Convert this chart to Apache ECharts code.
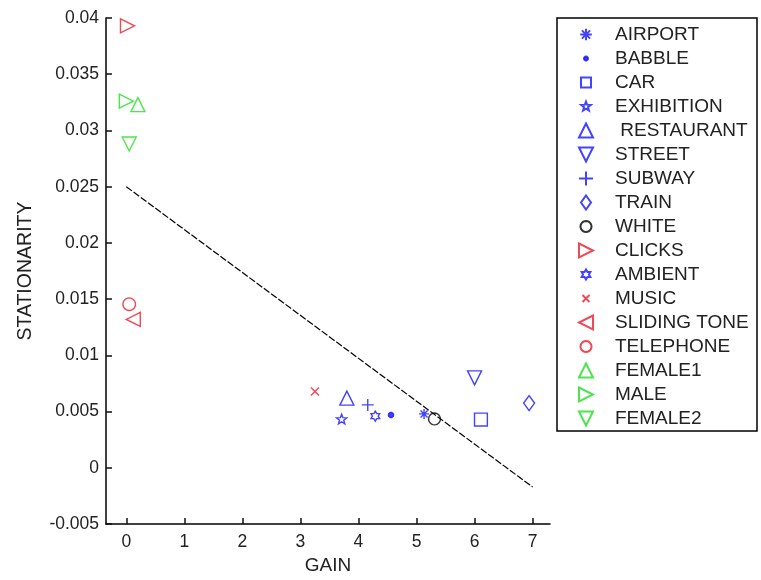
<!DOCTYPE html>
<html>
<head>
<meta charset="utf-8">
<script src="https://cdn.jsdelivr.net/npm/echarts@6/dist/echarts.min.js"></script>
<style>
	html, body { margin: 0; padding: 0; background: #fff; }
	#chart { width: 761px; height: 580px; }
</style>
</head>
<body>
<div id="chart"></div>
<script>
	// data
	const names = ['AIRPORT', 'BABBLE', 'CAR', 'EXHIBITION', ' RESTAURANT', 'STREET', 'SUBWAY', 'TRAIN', 'WHITE',
		'CLICKS', 'AMBIENT', 'MUSIC', 'SLIDING TONE', 'TELEPHONE', 'FEMALE1', 'MALE', 'FEMALE2'];
	const gain = [5.13, 4.56, 6.11, 3.71, 3.8, 6.0, 4.16, 6.94, 5.31,
		0.02, 4.29, 3.25, 0.12, 0.05, 0.2, 0.0, 0.05];
	const stationarity = [0.0048, 0.0047, 0.0043, 0.0043, 0.0062, 0.0080, 0.0056, 0.00576, 0.00435,
		0.0393, 0.0046, 0.0068, 0.0132, 0.01455, 0.0323, 0.0326, 0.0288];
	const lineGain = [0, 7];
	const lineStationarity = [0.025, -0.0017];
	const xTicks = [0, 1, 2, 3, 4, 5, 6, 7];

	// marker shapes; zero-length corner segments pad the box so legend icons come out smaller
	function padded(body, size) {
		return 'path://M0,0L0,0M' + size + ',' + size + 'L' + size + ',' + size + body;
	}
	function ring(r, c) {
		let pts = [];
		for (let i = 0; i < 24; i++) {
			let a = i * Math.PI / 12;
			pts.push((c + r * Math.cos(a)).toFixed(2) + ',' + (c + r * Math.sin(a)).toFixed(2));
		}
		return 'M' + pts.join('L') + 'Z';
	}
	function starPath(n, inner, pad) {
		let pts = [], c = 10 + pad;
		for (let i = 0; i < n * 2; i++) {
			let r = i % 2 == 0 ? 10 : 10 * inner;
			let a = -Math.PI / 2 + i * Math.PI / n;
			pts.push((c + r * Math.cos(a)).toFixed(2) + ',' + (c + r * Math.sin(a)).toFixed(2));
		}
		return padded('M' + pts.join('L') + 'Z', 2 * c);
	}
	const BLUE = '#1414ff', RED = '#ec1c2c', GREEN = '#22dd22', BLACK = '#000';
	const sym = {
		asterisk: padded('M6,1L6,11M1,6L11,6M2.5,2.5L9.5,9.5M9.5,2.5L2.5,9.5', 12),
		plus: 'path://M5,0L5,10M0,5L10,5',
		cross: padded('M3.5,3.5L10.5,10.5M10.5,3.5L3.5,10.5', 14),
		dot: padded(ring(2, 7), 14),
		circle: padded(ring(5.5, 7), 14),
		square: padded('M2,2L12,2L12,12L2,12Z', 14),
		diamond: 'path://M5,0L10,7L5,14L0,7Z',
		up: 'path://M5,0L10,10L0,10Z',
		down: 'path://M0,0L10,0L5,10Z',
		left: 'path://M10,0L0,5L10,10Z',
		right: 'path://M0,0L10,5L0,10Z',
		star: starPath(5, 0.42, 4),
		hexa: starPath(6, 0.58, 4)
	};
	// [symbol, colour, size in plot, filled]
	const styles = [
		[sym.asterisk, BLUE, 12],
		[sym.dot, BLUE, 18, true],
		[sym.square, BLUE, 18],
		[sym.star, BLUE, 15],
		[sym.up, BLUE, 14],
		[sym.down, BLUE, 14],
		[sym.plus, BLUE, 12],
		[sym.diamond, BLUE, [11, 15]],
		[sym.circle, BLACK, 15],
		[sym.right, RED, 14],
		[sym.hexa, BLUE, 14],
		[sym.cross, RED, 16],
		[sym.left, RED, 14],
		[sym.circle, RED, 16],
		[sym.up, GREEN, 14],
		[sym.right, GREEN, 14],
		[sym.down, GREEN, 14]
	];

	let chart = echarts.init(document.getElementById('chart'));
	let seriesData = [];
	seriesData.push({
		name: 'fit',
		type: 'line',
		data: lineGain.map((g, i) => [g, lineStationarity[i]]),
		symbol: 'none',
		lineStyle: { color: '#000', width: 1.2, type: [7, 2] },
		z: 1,
		silent: true
	});
	names.forEach((name, i) => {
		let st = styles[i];
		seriesData.push({
			name: name,
			type: 'scatter',
			data: [[gain[i], stationarity[i]]],
			symbol: st[0],
			symbolSize: st[2],
			itemStyle: {
				color: st[3] ? st[1] : 'rgba(0,0,0,0)',
				borderColor: st[1],
				borderWidth: 1.4
			},
			z: 3
		});
	});

	const font = 'Liberation Sans, Arial, sans-serif';
	let option = {
		animation: false,
		grid: { left: 106, top: 18, right: 211, bottom: 50 },
		xAxis: {
			type: 'value',
			z: 10,
			min: -0.35,
			max: 7.3,
			name: 'GAIN',
			nameLocation: 'middle',
			nameGap: 31,
			nameTextStyle: { fontFamily: font, fontSize: 19, color: '#222' },
			axisLine: { onZero: false, lineStyle: { color: '#000', width: 1.5 } },
			axisTick: { show: true, inside: true, length: 6, customValues: xTicks, lineStyle: { color: '#111', width: 1.5 } },
			axisLabel: { customValues: xTicks, margin: 9, fontFamily: font, fontSize: 17.5, color: '#222' },
			splitLine: { show: false }
		},
		yAxis: {
			type: 'value',
			z: 10,
			min: -0.005,
			max: 0.04,
			interval: 0.005,
			name: 'STATIONARITY',
			nameLocation: 'middle',
			nameGap: 70,
			nameTextStyle: { fontFamily: font, fontSize: 19.5, color: '#222' },
			axisLine: { show: true, onZero: false, lineStyle: { color: '#000', width: 1.5 } },
			axisTick: { show: true, inside: true, length: 6, lineStyle: { color: '#111', width: 1.5 } },
			axisLabel: { margin: 7, fontFamily: font, fontSize: 17.5, color: '#222' },
			splitLine: { show: false }
		},
		legend: {
			data: names,
			orient: 'vertical',
			left: 578,
			top: 25,
			padding: 0,
			itemWidth: 48,
			itemHeight: 14,
			itemGap: 5,
			symbolKeepAspect: true,
			selectedMode: false,
			textStyle: { fontFamily: font, fontSize: 19, color: '#222', lineHeight: 19 }
		},
		graphic: [{
			type: 'rect',
			shape: { x: 557, y: 18, width: 200, height: 413 },
			style: { fill: 'none', stroke: '#000', lineWidth: 1.5 },
			silent: true
		}],
		series: seriesData
	};
	chart.setOption(option);
</script>
</body>
</html>
